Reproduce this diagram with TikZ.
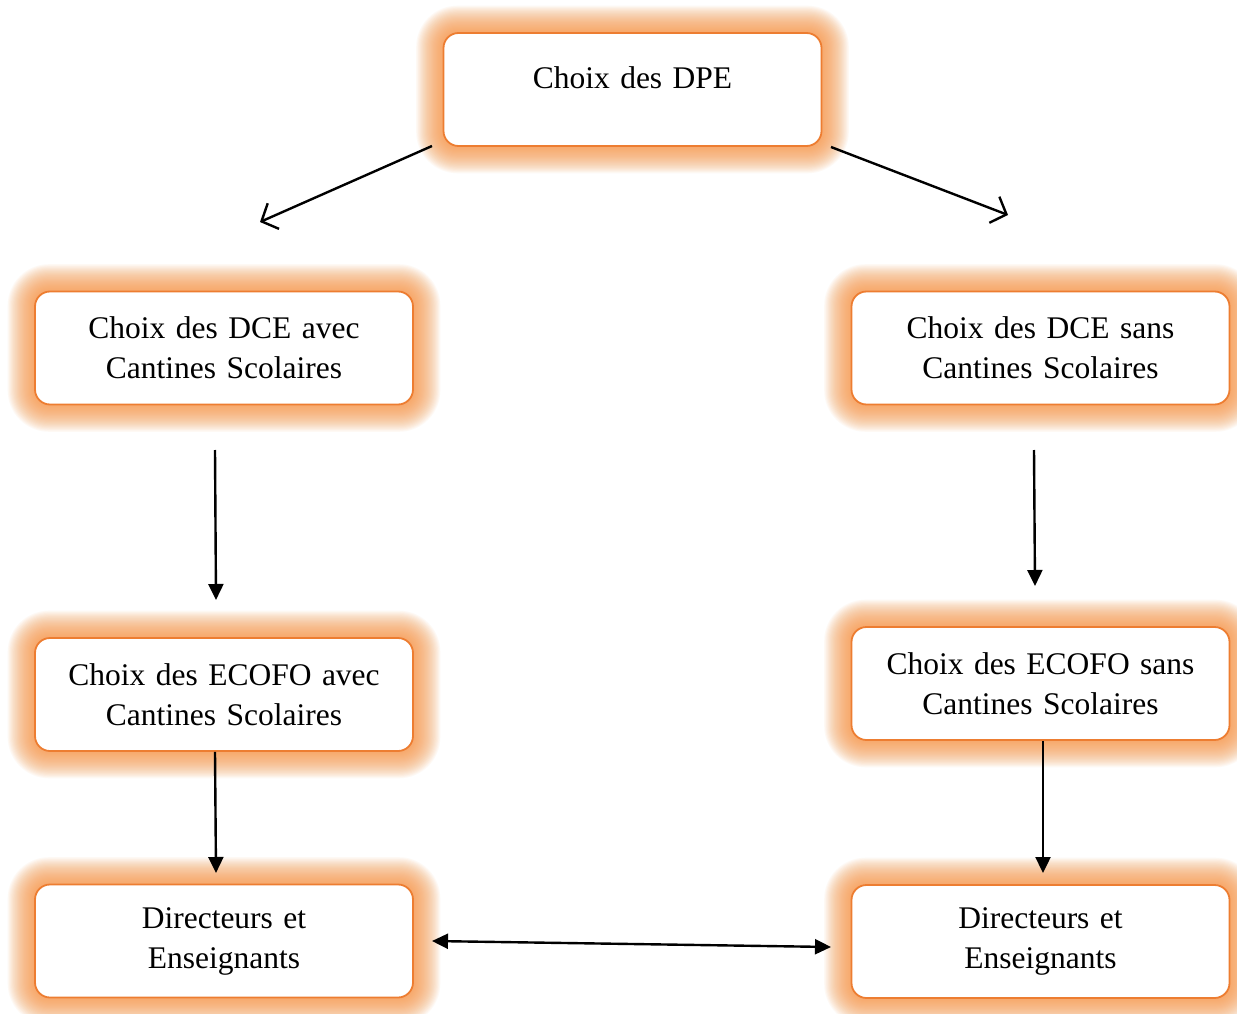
\documentclass[tikz,border=0pt]{standalone}
\usepackage{fontspec}
\setmainfont{Liberation Serif}
\usetikzlibrary{arrows.meta,calc}
\pgfdeclarelayer{glowlayer}
\pgfdeclarelayer{bglayer}
\pgfsetlayers{bglayer,glowlayer,main}
\definecolor{boxline}{RGB}{237,125,49}
\definecolor{glowc}{RGB}{247,150,70}
\tikzset{
  box/.style={draw=boxline, line width=1.8pt, fill=white, rounded corners=15pt,
    minimum width=378pt, minimum height=113pt, text width=360pt, align=center,
    inner sep=2pt, font=\fontsize{31.5}{40}\selectfont},
  topbox/.style={box, text height=22pt, text depth=23pt},
  openarrow/.style={-{Straight Barb[length=13pt,width=28pt,line width=2.4pt]}, line width=2.4pt},
  fillarrow/.style={-{Triangle[length=16pt,width=15pt]}, line width=2.4pt},
  dblarrow/.style={{Triangle[length=16pt,width=15pt]}-{Triangle[length=16pt,width=15pt]}, line width=2.4pt},
}
\newcommand{\glowbox}[1]{%
  \foreach \i in {1,...,24}{%
    \fill[glowc, opacity=0.055, rounded corners={15pt+1.1*\i pt}]
      ($(#1.south west)+(-1.1*\i pt,-1.1*\i pt)$) rectangle ($(#1.north east)+(1.1*\i pt,1.1*\i pt)$);
  }}
\begin{document}
\begin{tikzpicture}[x=1pt,y=-1pt]
\begin{pgfonlayer}{bglayer}
\fill[white] (0,0) rectangle (1237,1014);
\end{pgfonlayer}
\useasboundingbox (0,0) rectangle (1237,1014);
\node[topbox] (dpe) at (632.5,89.5) {Choix des DPE};
\node[box] (dceA) at (224,348) {Choix des DCE avec\\Cantines Scolaires};
\node[box] (dceS) at (1040.5,348) {Choix des DCE sans\\Cantines Scolaires};
\node[box] (ecoA) at (224,694.5) {Choix des ECOFO avec\\Cantines Scolaires};
\node[box] (ecoS) at (1040.5,683.5) {Choix des ECOFO sans\\Cantines Scolaires};
\node[box] (dirA) at (224,941) {Directeurs et\\Enseignants};
\node[box] (dirS) at (1040.5,941.5) {Directeurs et\\Enseignants};
\begin{pgfonlayer}{glowlayer}
\glowbox{dpe}\glowbox{dceA}\glowbox{dceS}\glowbox{ecoA}\glowbox{ecoS}\glowbox{dirA}\glowbox{dirS}
\end{pgfonlayer}
\coordinate (a1s) at (432,146);
\coordinate (a1e) at (260,222);
\coordinate (a2s) at (831,147);
\coordinate (a2e) at (1008,215);
\coordinate (v1s) at (215,450);
\coordinate (v1e) at (216,600);
\coordinate (v2s) at (1034,450);
\coordinate (v2e) at (1035,586);
\coordinate (v3e) at (216,873);
\coordinate (v4e) at (1043,873);
\coordinate (hs) at (432,941);
\coordinate (he) at (831,947);
\draw[openarrow] (a1s) -- (a1e);
\draw[openarrow] (a2s) -- (a2e);
\draw[fillarrow] (v1s) -- (v1e);
\draw[fillarrow] (v2s) -- (v2e);
\draw[fillarrow] (ecoA.south -| 215,0) -- (v3e);
\draw[fillarrow] (ecoS.south -| 1043,0) -- (v4e);
\draw[dblarrow] (hs) -- (he);
\end{tikzpicture}
\end{document}
